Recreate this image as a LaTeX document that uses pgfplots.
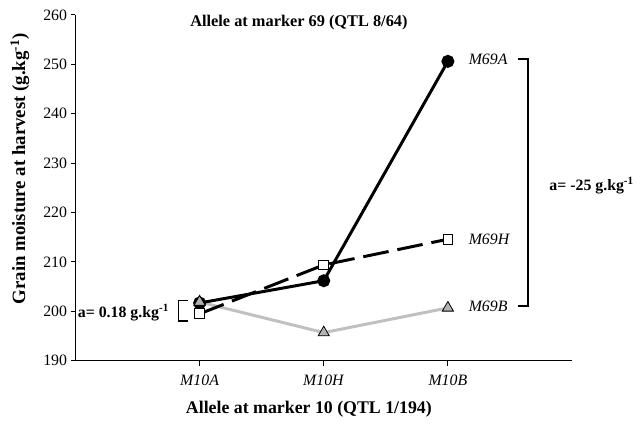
\documentclass[border=0pt]{standalone}
\usepackage{pgfplots}
\pgfplotsset{compat=1.18}
\usepackage{fontspec}
\setmainfont{Liberation Serif}
\definecolor{lgray}{RGB}{192,192,192}
\definecolor{tgray}{RGB}{178,178,178}
\begin{document}
\begin{tikzpicture}
\begin{axis}[
  at={(0,0)}, anchor=south west,
  scale only axis, width=500bp, height=348.3bp,
  xmin=0, xmax=4, ymin=190, ymax=260,
  axis x line=bottom, axis y line=left,
  axis line style={line width=1.2pt, -},
  xtick={1,2,3}, xticklabels={\textit{M10A},\textit{M10H},\textit{M10B}},
  ytick={190,200,...,260},
  tick style={line width=1pt, black},
  tick align=outside, major tick length=5bp,
  tick label style={font=\fontsize{16}{18}\selectfont},
  /pgf/number format/assume math mode=true,
  xticklabel style={yshift=-6bp},
  xlabel={\textbf{Allele at marker 10 (QTL 1/194)}},
  xlabel style={font=\fontsize{18}{20}\selectfont, at={(axis description cs:0.47,-0.14)}, anchor=center},
  ylabel={\textbf{Grain moisture at harvest (g.kg\textsuperscript{-1})}},
  ylabel style={font=\fontsize{19}{21}\selectfont, at={(axis description cs:-0.112,0.555)}, anchor=center},
  clip=false,
]
\addplot[lgray, line width=3pt, mark=triangle*, mark size=6.5bp, mark options={fill=tgray, draw=black, line width=0.8pt, solid}]
  coordinates {(1,201.9) (2,195.7) (3,200.7)};
\addplot[black, line width=3pt, mark=*, mark size=5bp, mark options={fill=black, solid}]
  coordinates {(1,201.7) (2,206.2) (3,250.6)};
\addplot[black, line width=3pt, dash pattern=on 26bp off 9bp, mark=square*, mark size=5bp, mark options={fill=white, draw=black, line width=0.8pt, solid}]
  coordinates {(1,199.5) (2,209.4) (3,214.6)};
\addplot[lgray, line width=0pt, draw=none, mark=triangle*, mark size=6.5bp, mark options={fill=tgray, draw=black, line width=0.8pt, solid}]
  coordinates {(1,201.9)};
% brackets
\draw[line width=1.5pt] (axis cs:0.904,202.2) -- (axis cs:0.832,202.2) -- (axis cs:0.832,198.1) -- (axis cs:0.904,198.1);
\draw[line width=1.5pt] (axis cs:3.566,251.1) -- (axis cs:3.646,251.1) -- (axis cs:3.646,201.05) -- (axis cs:3.566,201.05);
% texts
\node[anchor=east, font=\fontsize{16}{18}\selectfont\bfseries] at (axis cs:0.78,199.8) {a= 0.18 g.kg\textsuperscript{-1}};
\node[anchor=west, font=\fontsize{16}{18}\selectfont\bfseries] at (axis cs:3.79,225.5) {a= -25 g.kg\textsuperscript{-1}};
\node[anchor=west, font=\fontsize{16}{18}\selectfont\itshape] at (axis cs:3.14,251.1) {M69A};
\node[anchor=west, font=\fontsize{16}{18}\selectfont\itshape] at (axis cs:3.14,214.6) {M69H};
\node[anchor=west, font=\fontsize{16}{18}\selectfont\itshape] at (axis cs:3.14,201.1) {M69B};
\node[font=\fontsize{16.5}{18}\selectfont\bfseries] at (axis cs:1.8,258.4) {Allele at marker 69 (QTL 8/64)};
\end{axis}
\path[use as bounding box] (-76bp,-63.7bp) rectangle (561bp,363.3bp);
\end{tikzpicture}
\end{document}
